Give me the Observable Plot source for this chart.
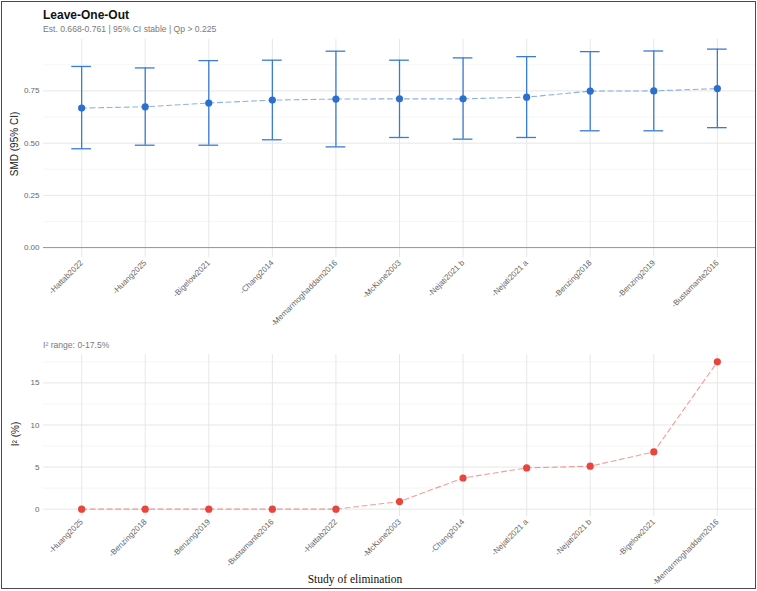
<!DOCTYPE html>
<html>
<head>
<meta charset="utf-8">
<script src="https://cdn.jsdelivr.net/npm/d3@7"></script>
<script src="https://cdn.jsdelivr.net/npm/@observablehq/plot@0.6"></script>
<style>
  body { margin: 0; background: #fff; font-family: "Liberation Sans", Arial, sans-serif; }
  #fig { position: relative; width: 757px; height: 591px; overflow: hidden; background: #fff; }
  #fig > svg, #fig > figure { position: absolute; left: 0; margin: 0; }
  #frame { position: absolute; left: 1px; top: 1px; width: 755px; height: 588px; box-sizing: border-box;
           border: 1.6px solid #4a4a4a; pointer-events: none; }
</style>
</head>
<body>
<div id="fig"><div id="frame"></div></div>
<script>
// Leave-one-out sensitivity analysis: pooled SMD with 95% CI after dropping each study
const studiesLOO = ["-Hattab2022", "-Huang2025", "-Bigelow2021", "-Chang2014", "-Memarmoghaddam2016",
  "-McKune2003", "-Nejati2021 b", "-Nejati2021 a", "-Benzing2018", "-Benzing2019", "-Bustamante2016"];
const smd     = [0.668, 0.674, 0.692, 0.706, 0.711, 0.712, 0.712, 0.720, 0.749, 0.750, 0.761];
const ciLower = [0.473, 0.490, 0.490, 0.516, 0.482, 0.527, 0.519, 0.527, 0.559, 0.559, 0.574];
const ciUpper = [0.867, 0.860, 0.895, 0.897, 0.940, 0.897, 0.908, 0.914, 0.938, 0.941, 0.950];

// Residual heterogeneity (I²) after dropping each study, sorted ascending
const studiesI2 = ["-Huang2025", "-Benzing2018", "-Benzing2019", "-Bustamante2016", "-Hattab2022",
  "-McKune2003", "-Chang2014", "-Nejati2021 a", "-Nejati2021 b", "-Bigelow2021", "-Memarmoghaddam2016"];
const i2Values = [0, 0, 0, 0, 0, 0.9, 3.7, 4.9, 5.1, 6.8, 17.5];

// Axis ticks
const smdTicks = [0, 0.25, 0.5, 0.75];
const smdMinor = [0.125, 0.375, 0.625, 0.875];
const i2Ticks = [0, 5, 10, 15];
const i2Minor = [2.5, 7.5, 12.5, 17.5];

const fig = document.getElementById("fig");
const frame = document.getElementById("frame");

const W = 757;
const gridMajor = {stroke: "#e4e4e4", strokeWidth: 0.9};
const gridMinor = {stroke: "#eeeeee", strokeWidth: 0.55};
const baseStyle = {fontFamily: "Liberation Sans, Arial, sans-serif", fontSize: "8px", color: "#666",
  background: "transparent", overflow: "visible"};

// ---- upper panel: pooled SMD ----
const n = studiesLOO.length;
const idx = d3.range(n);
const loo = idx.map(i => ({i, est: smd[i], lo: ciLower[i], hi: ciUpper[i]}));
const smdMax = d3.max(ciUpper), smdPad = smdMax * 0.05;
const capHalf = 0.155;

const upper = Plot.plot({
  width: W, height: 335,
  marginTop: 38.7, marginBottom: 78, marginLeft: 43, marginRight: 2,
  style: baseStyle,
  x: {domain: [-0.6, n - 0.4]},
  y: {domain: [-smdPad, smdMax + smdPad]},
  marks: [
    Plot.ruleY(smdMinor, gridMinor),
    Plot.ruleY(smdTicks, gridMajor),
    Plot.ruleX(idx, gridMajor),
    Plot.ruleY([0], {stroke: "#8c8c8c", strokeWidth: 0.9}),
    Plot.line(loo, {x: "i", y: "est", stroke: "#3d7fd9", strokeOpacity: 0.6, strokeWidth: 1.1,
      strokeDasharray: "5,3.5"}),
    Plot.ruleX(loo, {x: "i", y1: "lo", y2: "hi", stroke: "#3a7bd5", strokeWidth: 1.3}),
    Plot.ruleY(loo, {y: "hi", x1: d => d.i - capHalf, x2: d => d.i + capHalf, stroke: "#3a7bd5", strokeWidth: 1.3}),
    Plot.ruleY(loo, {y: "lo", x1: d => d.i - capHalf, x2: d => d.i + capHalf, stroke: "#3a7bd5", strokeWidth: 1.3}),
    Plot.dot(loo, {x: "i", y: "est", r: 3.6, fill: "#2b6fd1"}),
    Plot.axisY(smdTicks, {tickSize: 0, tickPadding: 4, tickFormat: d3.format(".2f"), label: null, fill: "#666"}),
    Plot.axisX(idx, {tickSize: 0, tickPadding: 4, tickRotate: -45, tickFormat: i => studiesLOO[i], label: null, fill: "#666"})
  ]
});
upper.style.top = "0px";
fig.insertBefore(upper, frame);

// ---- lower panel: I² ----
const het = studiesI2.map((s, i) => ({i, v: i2Values[i]}));
const i2Max = d3.max(i2Values), i2Pad = i2Max * 0.05;

const lower = Plot.plot({
  width: W, height: 251,
  marginTop: 14, marginBottom: 75, marginLeft: 43, marginRight: 2,
  style: baseStyle,
  x: {domain: [-0.6, studiesI2.length - 0.4]},
  y: {domain: [-i2Pad, i2Max + i2Pad]},
  marks: [
    Plot.ruleY(i2Minor, gridMinor),
    Plot.ruleY(i2Ticks, gridMajor),
    Plot.ruleX(d3.range(studiesI2.length), gridMajor),
    Plot.line(het, {x: "i", y: "v", stroke: "#ec5a50", strokeOpacity: 0.6, strokeWidth: 1.1,
      strokeDasharray: "5,3.5"}),
    Plot.dot(het, {x: "i", y: "v", r: 3.6, fill: "#e8453c"}),
    Plot.axisY(i2Ticks, {tickSize: 0, tickPadding: 4, label: null, fill: "#666"}),
    Plot.axisX(d3.range(studiesI2.length), {tickSize: 0, tickPadding: 4, tickRotate: -45,
      tickFormat: i => studiesI2[i], label: null, fill: "#666"})
  ]
});
lower.style.top = "340px";
fig.insertBefore(lower, frame);

// ---- titles and axis titles ----
const overlay = d3.create("svg").attr("width", W).attr("height", 591)
  .style("top", "0px").style("pointer-events", "none")
  .style("font-family", "Liberation Sans, Arial, sans-serif");

overlay.append("text").attr("x", 43).attr("y", 18.5)
  .attr("font-size", 12).attr("font-weight", "bold").attr("fill", "#111").text("Leave-One-Out");
overlay.append("text").attr("x", 43).attr("y", 31.5)
  .attr("font-size", 8.6).attr("fill", "#7a7a7a")
  .text(`Est. ${d3.min(smd).toFixed(3)}-${d3.max(smd).toFixed(3)} | 95% CI stable | Qp > 0.225`);
overlay.append("text").attr("x", 43).attr("y", 348)
  .attr("font-size", 8.6).attr("fill", "#7a7a7a")
  .text(`I² range: ${d3.min(i2Values)}-${d3.max(i2Values)}%`);

overlay.append("text").attr("transform", "translate(17.5,144) rotate(-90)")
  .attr("text-anchor", "middle").attr("font-size", 10).attr("fill", "#222").text("SMD (95% CI)");
overlay.append("text").attr("transform", "translate(19,434) rotate(-90)")
  .attr("text-anchor", "middle").attr("font-size", 10).attr("fill", "#222").text("I² (%)");

overlay.append("text").attr("x", 355).attr("y", 583)
  .attr("text-anchor", "middle").attr("font-size", 11.5).attr("fill", "#111")
  .attr("font-family", "Liberation Serif, Times New Roman, serif").text("Study of elimination");

fig.insertBefore(overlay.node(), frame);
</script>
</body>
</html>
